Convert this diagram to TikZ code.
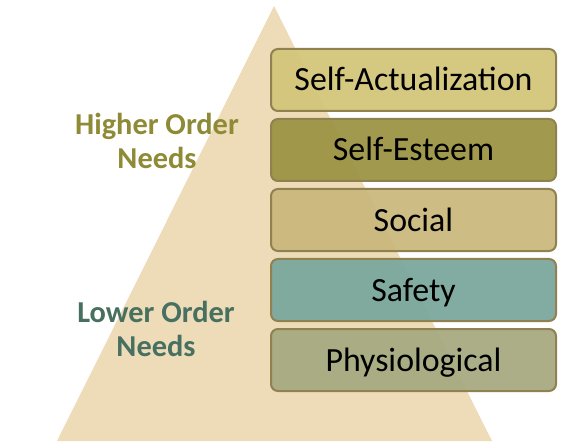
\documentclass[tikz,border=0pt]{standalone}
\usepackage{fontspec}
\setmainfont{Carlito}
\definecolor{tri}{HTML}{EEDCB8}
\definecolor{bord}{HTML}{8F8150}
\definecolor{cact}{HTML}{D3C579}
\definecolor{cest}{HTML}{9C9445}
\definecolor{csoc}{HTML}{CBB87E}
\definecolor{csaf}{HTML}{7BA89C}
\definecolor{cphy}{HTML}{A7AA81}
\definecolor{hitxt}{HTML}{8E8A36}
\definecolor{lotxt}{HTML}{487061}
\tikzset{
  level/.style={draw=bord, line width=2bp, rounded corners=7bp, fill opacity=0.95, text opacity=1,
    minimum width=285bp, minimum height=62bp, inner sep=0pt,
    text height=26bp, text depth=4bp,
    font=\fontsize{34}{40}\selectfont, text=black, anchor=north west},
  grp/.style={font=\fontsize{30.5}{35}\selectfont\bfseries, align=center}
}
\begin{document}
\begin{tikzpicture}[x=1bp,y=-1bp]
\useasboundingbox (0,0) rectangle (575,447);
\fill[tri] (274,6) -- (492,441) -- (57,441) -- cycle;
\node[level, fill=cact] (act) at (270,48) {Self-Actualization};
\node[level, fill=cest] (est) at (270,118) {Self-Esteem};
\node[level, fill=csoc] (soc) at (270,188) {Social};
\node[level, fill=csaf] (saf) at (270,258) {Safety};
\node[level, fill=cphy] (phy) at (270,328) {Physiological};
\node[grp, text=hitxt] (hi) at (157,141) {Higher Order\\Needs};
\node[grp, text=lotxt] (lo) at (156,329) {Lower Order\\Needs};
\end{tikzpicture}
\end{document}
